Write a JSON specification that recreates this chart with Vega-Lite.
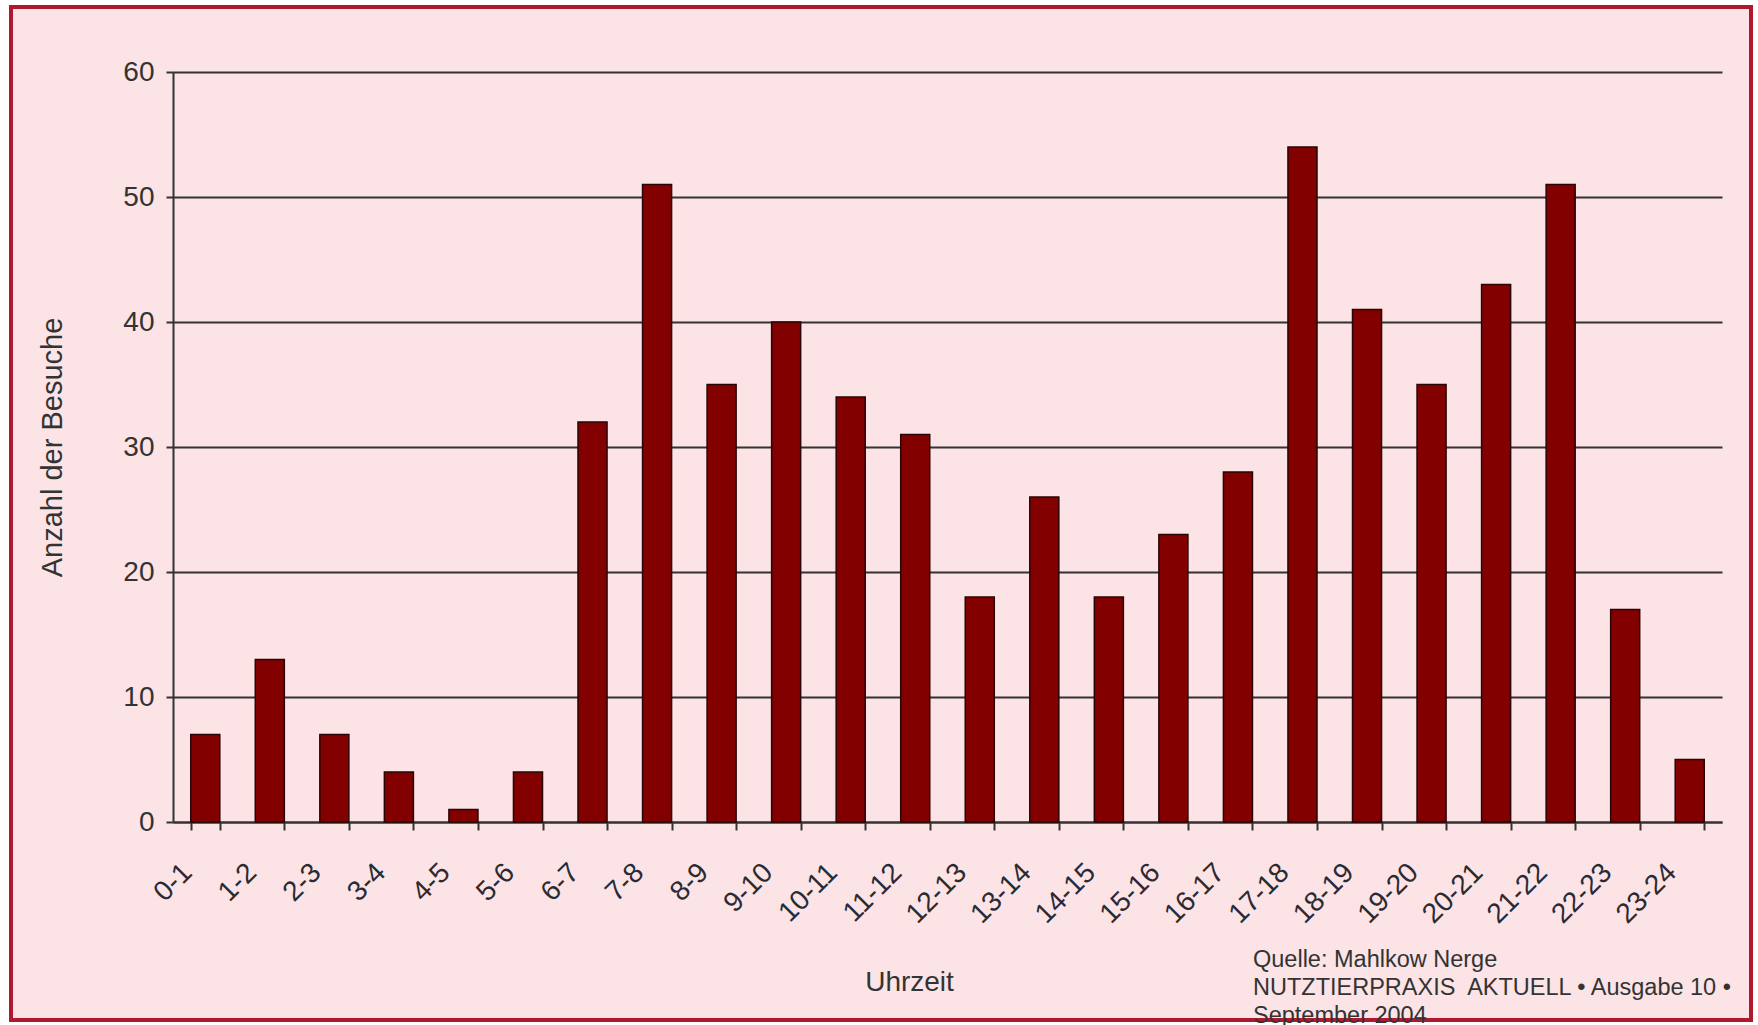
{
  "$schema": "https://vega.github.io/schema/vega-lite/v6.json",
  "width": 1740,
  "height": 1013,
  "autosize": {"type": "none"},
  "padding": {"left": 11, "top": 7, "right": 7, "bottom": 5},
  "background": "#ffffff",
  "title": {
    "text": ["Quelle: Mahlkow Nerge", "NUTZTIERPRAXIS\u00a0 AKTUELL • Ausgabe 10 •", "September 2004"],
    "orient": "bottom",
    "anchor": "end",
    "frame": "group",
    "align": "left",
    "dx": -498,
    "offset": -72,
    "baseline": "top",
    "fontSize": 23.5,
    "lineHeight": 28,
    "font": "Liberation Sans",
    "fontWeight": "normal",
    "color": "#333333"
  },
  "data": {
    "values": [
      {"Uhrzeit": "0-1", "Besuche": 7},
      {"Uhrzeit": "1-2", "Besuche": 13},
      {"Uhrzeit": "2-3", "Besuche": 7},
      {"Uhrzeit": "3-4", "Besuche": 4},
      {"Uhrzeit": "4-5", "Besuche": 1},
      {"Uhrzeit": "5-6", "Besuche": 4},
      {"Uhrzeit": "6-7", "Besuche": 32},
      {"Uhrzeit": "7-8", "Besuche": 51},
      {"Uhrzeit": "8-9", "Besuche": 35},
      {"Uhrzeit": "9-10", "Besuche": 40},
      {"Uhrzeit": "10-11", "Besuche": 34},
      {"Uhrzeit": "11-12", "Besuche": 31},
      {"Uhrzeit": "12-13", "Besuche": 18},
      {"Uhrzeit": "13-14", "Besuche": 26},
      {"Uhrzeit": "14-15", "Besuche": 18},
      {"Uhrzeit": "15-16", "Besuche": 23},
      {"Uhrzeit": "16-17", "Besuche": 28},
      {"Uhrzeit": "17-18", "Besuche": 54},
      {"Uhrzeit": "18-19", "Besuche": 41},
      {"Uhrzeit": "19-20", "Besuche": 35},
      {"Uhrzeit": "20-21", "Besuche": 43},
      {"Uhrzeit": "21-22", "Besuche": 51},
      {"Uhrzeit": "22-23", "Besuche": 17},
      {"Uhrzeit": "23-24", "Besuche": 5}
    ]
  },
  "mark": {"type": "bar", "fill": "#820000", "stroke": "#2a0505", "strokeWidth": 1.5},
  "encoding": {
    "x": {
      "field": "Uhrzeit",
      "type": "nominal",
      "sort": null,
      "scale": {"range": [162, 1711], "paddingInner": 0.55, "paddingOuter": 0.275},
      "axis": {
        "title": "Uhrzeit",
        "offset": -198,
        "tickBand": "extent",
        "labelAngle": -45,
        "labelAlign": "right",
        "labelBaseline": "middle",
        "labelPadding": 38,
        "labelOffset": -18,
        "labelFontSize": 28,
        "labelFont": "Liberation Sans",
        "labelColor": "#2a2a33",
        "tickSize": 8,
        "tickWidth": 2,
        "tickColor": "#333333",
        "domainColor": "#333333",
        "domainWidth": 2,
        "titleFontSize": 28,
        "titleFont": "Liberation Sans",
        "titleFontWeight": "normal",
        "titleColor": "#333333",
        "titleX": 898,
        "titleY": 168,
        "titleBaseline": "alphabetic"
      }
    },
    "y": {
      "field": "Besuche",
      "type": "quantitative",
      "scale": {"domain": [0, 60], "range": [815, 65], "nice": false},
      "axis": {
        "title": "Anzahl der Besuche",
        "offset": -162,
        "values": [0, 10, 20, 30, 40, 50, 60],
        "grid": true,
        "gridColor": "#333333",
        "gridWidth": 2,
        "gridOpacity": 1,
        "tickSize": 7,
        "tickWidth": 2,
        "tickColor": "#333333",
        "domainColor": "#333333",
        "domainWidth": 2,
        "labelPadding": 12,
        "labelFontSize": 28,
        "labelFont": "Liberation Sans",
        "labelColor": "#333333",
        "titleFontSize": 29,
        "titleFont": "Liberation Sans",
        "titleFontWeight": "normal",
        "titleColor": "#333333",
        "titleX": -121,
        "titleBaseline": "middle"
      }
    }
  },
  "config": {
    "view": {"fill": "#fbe3e6", "stroke": "#b0182d", "strokeWidth": 4}
  }
}
